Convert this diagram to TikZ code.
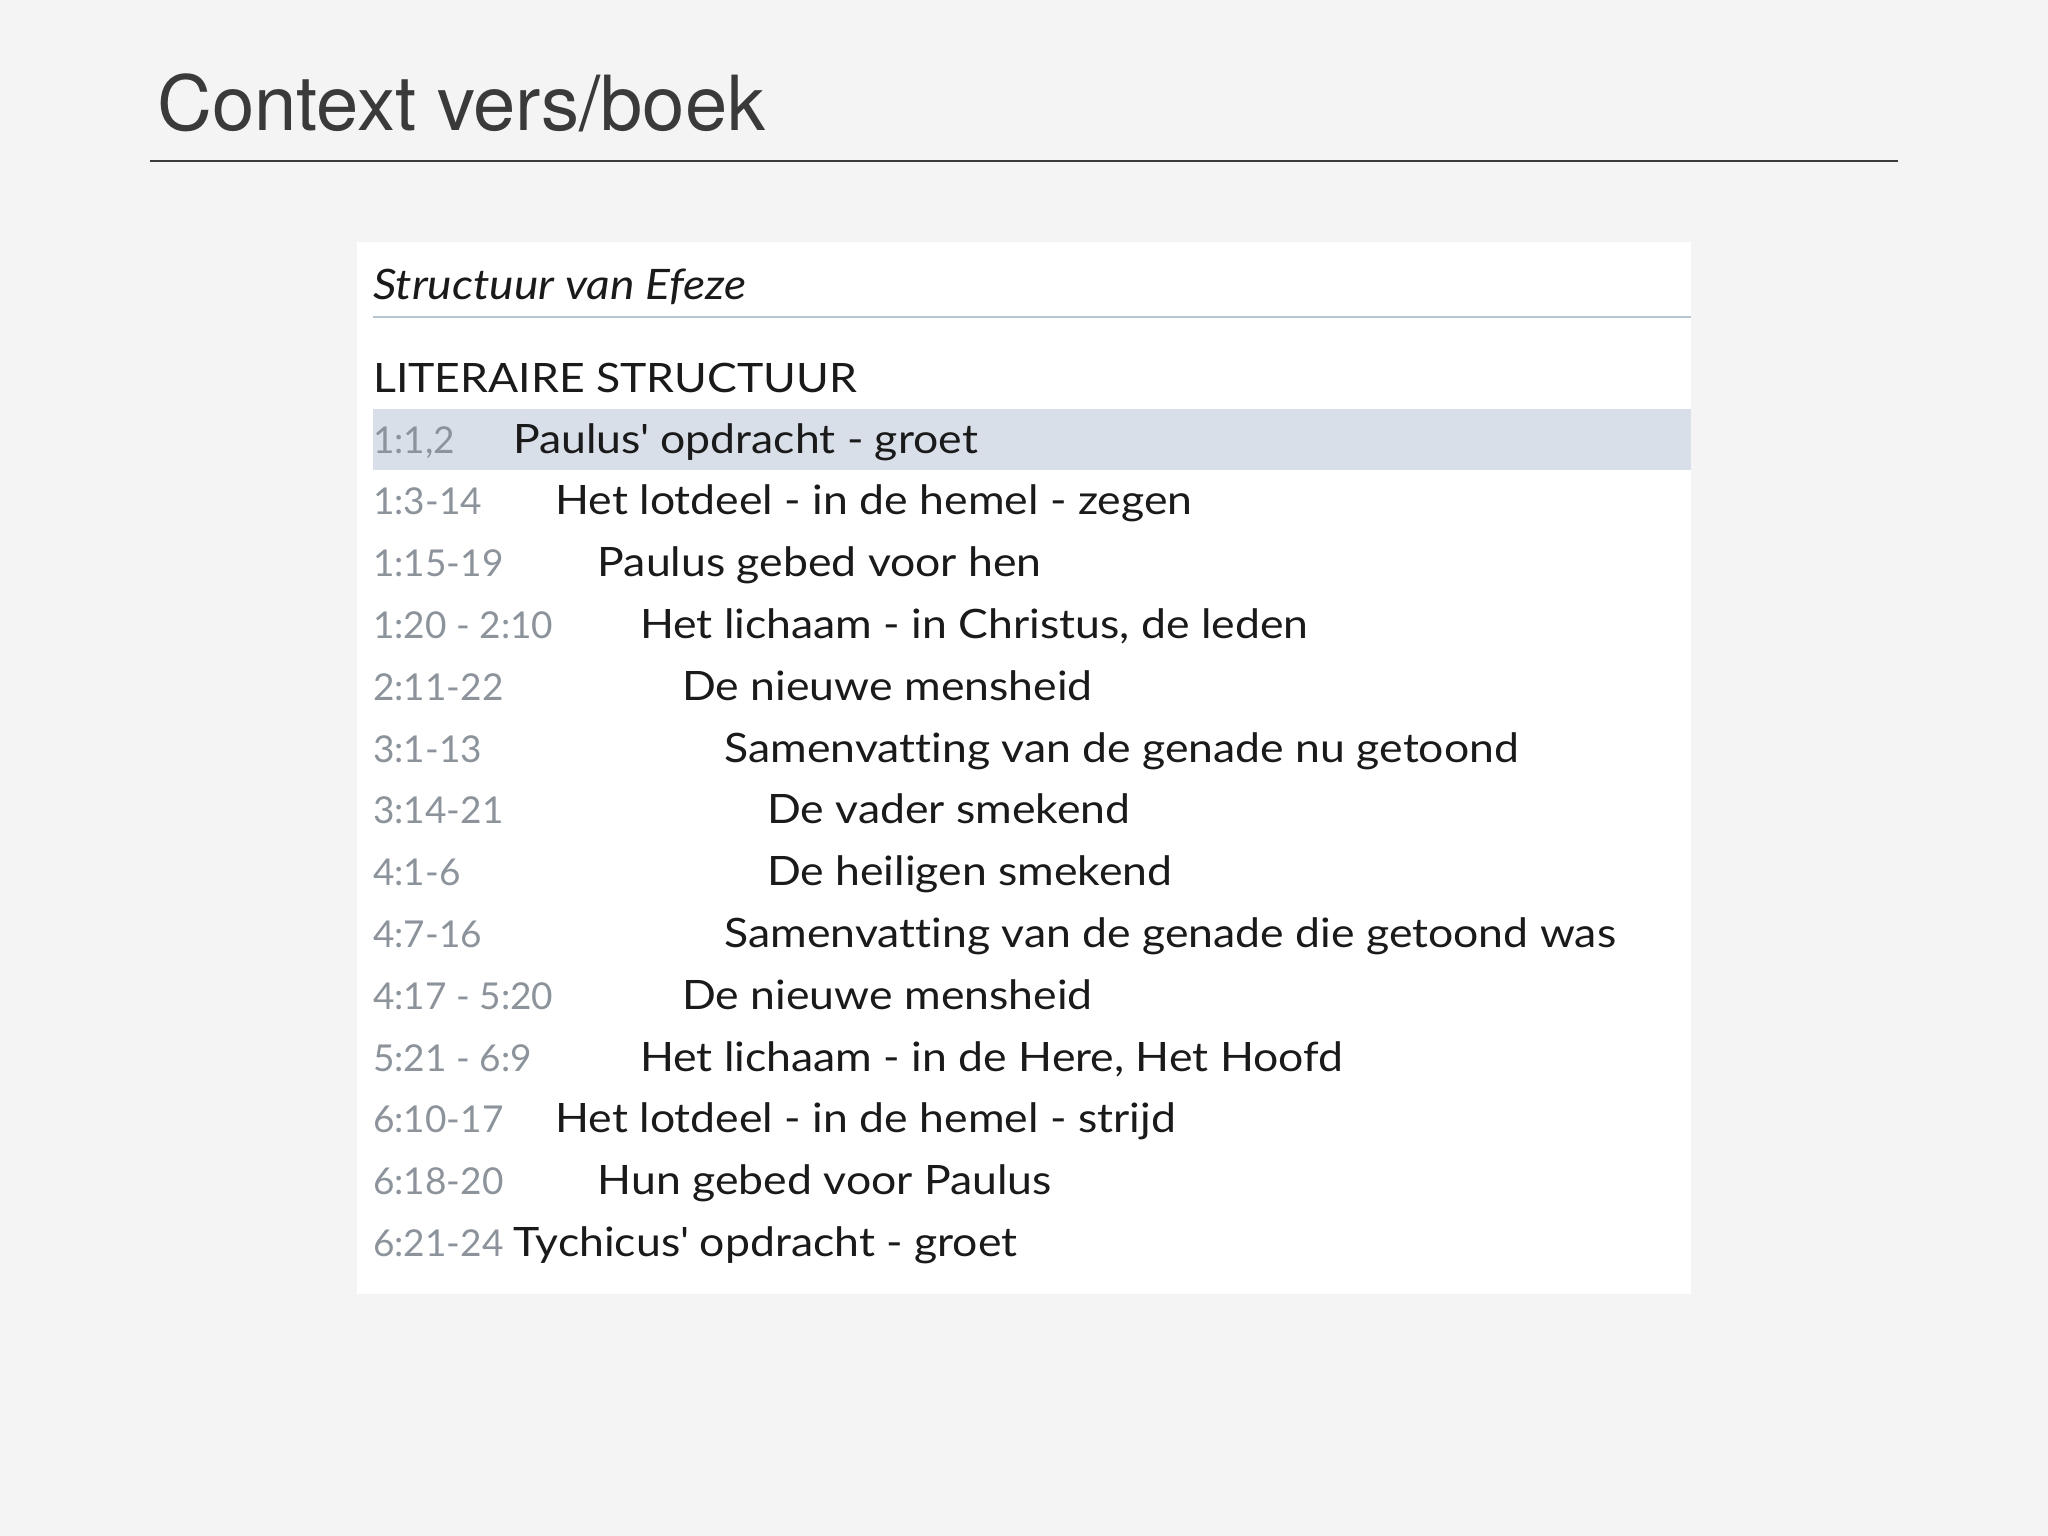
\documentclass[tikz,border=0pt]{standalone}
\usepackage{fontspec}
\setmainfont{Lato}
\newfontfamily\titlefont{TeX Gyre Heros}
\newfontfamily\itemfont{Lato}[FakeStretch=1.1, Ligatures=NoCommon]
\definecolor{slidebg}{HTML}{F4F4F4}
\definecolor{titleink}{HTML}{3A3A3A}
\definecolor{refgray}{HTML}{8C939B}
\definecolor{rowink}{HTML}{1A1A1A}
\definecolor{hilite}{HTML}{D9DFE9}
\definecolor{sepline}{HTML}{B9C6CF}
\begin{document}
\begin{tikzpicture}[x=1pt, y=-1pt,
    verse/.style = {anchor=base west, inner sep=0pt, text=refgray, font=\fontsize{37}{37}\selectfont},
    item/.style = {anchor=base west, inner sep=0pt, text=rowink, font=\itemfont\fontsize{40.5}{40.5}\selectfont}]
    \useasboundingbox (0,0) rectangle (2048,1536);
    \fill[slidebg] (0,0) rectangle (2048,1536);
    % title and rule
    \node[anchor=base west, inner sep=0pt, text=titleink, font=\titlefont\fontsize{76}{76}\selectfont] (title) at (157,131) {Context vers/boek};
    \draw[titleink, line width=2pt] (150,161) -- (1898,161);
    % panel
    \fill[white] (357,242) rectangle (1691,1294);
    \node[item, font=\itemfont\itshape\fontsize{42}{42}\selectfont] (head) at (373,299) {Structuur van Efeze};
    \draw[sepline, line width=2pt] (373,317) -- (1691,317);
    \node[item] (lit) at (373,392) {LITERAIRE STRUCTUUR};
    \fill[hilite] (373,409) rectangle (1691,470);
    % rows
    \node[verse] (r1) at (373,453) {1:1,2};
    \node[item] (t1) at (513,453) {Paulus\textquotesingle{} opdracht - groet};
    \node[verse] (r2) at (373,514.8) {1:3-14};
    \node[item] (t2) at (555.3,514.8) {Het lotdeel - in de hemel - zegen};
    \node[verse] (r3) at (373,576.6) {1:15-19};
    \node[item] (t3) at (597.6,576.6) {Paulus gebed voor hen};
    \node[verse] (r4) at (373,638.4) {1:20 - 2:10};
    \node[item] (t4) at (639.9,638.4) {Het lichaam - in Christus, de leden};
    \node[verse] (r5) at (373,700.2) {2:11-22};
    \node[item] (t5) at (682.2,700.2) {De nieuwe mensheid};
    \node[verse] (r6) at (373,762) {3:1-13};
    \node[item] (t6) at (724.5,762) {Samenvatting van de genade nu getoond};
    \node[verse] (r7) at (373,823.8) {3:14-21};
    \node[item] (t7) at (766.8,823.8) {De vader smekend};
    \node[verse] (r8) at (373,885.6) {4:1-6};
    \node[item] (t8) at (766.8,885.6) {De heiligen smekend};
    \node[verse] (r9) at (373,947.4) {4:7-16};
    \node[item] (t9) at (724.5,947.4) {Samenvatting van de genade die getoond was};
    \node[verse] (r10) at (373,1009.2) {4:17 - 5:20};
    \node[item] (t10) at (682.2,1009.2) {De nieuwe mensheid};
    \node[verse] (r11) at (373,1071) {5:21 - 6:9};
    \node[item] (t11) at (639.9,1071) {Het lichaam - in de Here, Het Hoofd};
    \node[verse] (r12) at (373,1132.8) {6:10-17};
    \node[item] (t12) at (555.3,1132.8) {Het lotdeel - in de hemel - strijd};
    \node[verse] (r13) at (373,1194.6) {6:18-20};
    \node[item] (t13) at (597.6,1194.6) {Hun gebed voor Paulus};
    \node[verse] (r14) at (373,1256.4) {6:21-24};
    \node[item] (t14) at (513,1256.4) {Tychicus\textquotesingle{} opdracht - groet};
\end{tikzpicture}
\end{document}
